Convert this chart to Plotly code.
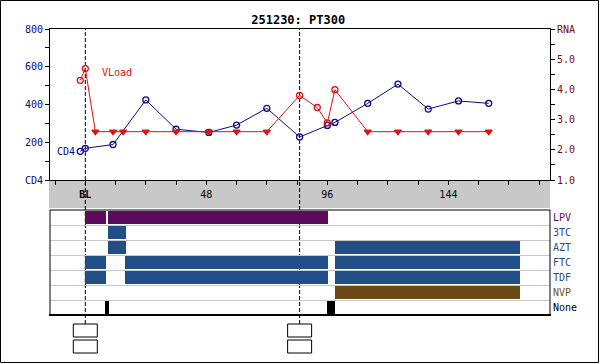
import plotly.graph_objects as go

# ---------------- data ----------------
title_text = "251230: PT300"

cd4_weeks = [-2, 0, 11, 24, 36, 49, 60, 72, 85, 96, 99, 112, 124, 136, 148, 160]
cd4_values = [152, 168, 188, 424, 269, 252, 291, 380, 228, 289, 305, 406, 508, 376, 419, 406]

rna_weeks = [-2, 0, 4, 11, 15, 24, 36, 49, 60, 72, 85, 92, 96, 99, 112, 124, 136, 148, 160]
rna_values = [4.3, 4.69, 2.6, 2.6, 2.6, 2.6, 2.6, 2.6, 2.6, 2.6, 3.8, 3.4, 2.89, 3.99, 2.6, 2.6, 2.6, 2.6, 2.6]
rna_below_limit = [False, False, True, True, True, True, True, True, True, True,
                   False, False, False, False, True, True, True, True, True]

x_tick_weeks = list(range(-12, 181, 12))
x_tick_labels = {0: "<b>BL</b>", 48: "48", 96: "96", 144: "144"}

cd4_ticks = [0, 200, 400, 600, 800]
cd4_tick_labels = ["CD4", "200", "400", "600", "800"]
rna_ticks = [1, 2, 3, 4, 5, 6]
rna_tick_labels = ["1.0", "2.0", "3.0", "4.0", "5.0", "RNA"]

drugs = ["LPV", "3TC", "AZT", "FTC", "TDF", "NVP", "None"]
drug_colors = ["#5c0a5c", "#224e88", "#224e88", "#224e88", "#224e88", "#6b4a16", "#000000"]
label_colors = ["#5c0a5c", "#2a4c8c", "#2a4c8c", "#2a4c8c", "#2a4c8c", "#7a5418", "#000000"]
drug_periods = {
    "LPV": [(0, 8.2), (9.1, 96.2)],
    "3TC": [(9.1, 16)],
    "AZT": [(9.1, 16), (99, 172.4)],
    "FTC": [(0, 8.2), (15.8, 96.2), (99, 172.4)],
    "TDF": [(0, 8.2), (15.8, 96.2), (99, 172.4)],
    "NVP": [(99, 172.4)],
    "None": [(7.9, 9.3), (95.9, 99.2)],
}

genotype_weeks = [0, 85]

# ---------------- layout geometry (pixels of a 600x364 page) ----------------
W, H = 600, 364
def px_x(p): return p / W
def px_y(p): return 1 - p / H

x_dom = [px_x(50), px_x(550)]
top_dom = [px_y(180), px_y(29)]
bot_dom = [px_y(315), px_y(210)]
x_range = [-14, 184.3]

NAVY = "#0a0a8c"
DRED = "#7a0a0a"
RED = "#e01010"
MONO = "DejaVu Sans Mono"

fig = go.Figure()

# CD4
fig.add_trace(go.Scatter(
    x=cd4_weeks, y=cd4_values, mode="lines+markers", xaxis="x", yaxis="y",
    line=dict(color=NAVY, width=1),
    marker=dict(symbol="circle-open", size=6, color=NAVY, line=dict(width=1.3)),
    hoverinfo="x+y", showlegend=False))

# RNA
rna_symbols = ["triangle-down" if b else "circle-open" for b in rna_below_limit]
fig.add_trace(go.Scatter(
    x=rna_weeks, y=rna_values, mode="lines+markers", xaxis="x", yaxis="y2",
    line=dict(color=RED, width=1),
    marker=dict(symbol=rna_symbols, size=6, color=RED, line=dict(width=1.3, color=RED)),
    hoverinfo="x+y", showlegend=False))

# drug bars
for i, d in enumerate(drugs):
    periods = drug_periods[d]
    if not periods:
        continue
    fig.add_trace(go.Bar(
        orientation="h", xaxis="x2", yaxis="y3",
        y=[i + 0.5] * len(periods),
        base=[s for s, e in periods],
        x=[e - s for s, e in periods],
        width=0.92,
        marker=dict(color=drug_colors[i], line=dict(width=0)),
        showlegend=False, name=d))

shapes = []
# gray x-axis band
shapes.append(dict(type="rect", xref="paper", yref="paper",
                   x0=px_x(49), x1=px_x(550), y0=px_y(208), y1=px_y(180),
                   fillcolor="#c8c8c8", line=dict(width=0), layer="below"))
# genotype markers: dashed lines and boxes
for wk in genotype_weeks:
    shapes.append(dict(type="line", xref="x", yref="paper", x0=wk, x1=wk,
                       y0=px_y(324), y1=px_y(29),
                       line=dict(color="black", width=1, dash="4px,2px"), layer="below"))
    for (ya, yb) in [(324, 337), (340, 353)]:
        shapes.append(dict(type="rect", xref="x", yref="paper", xsizemode="pixel",
                           xanchor=wk, x0=-12, x1=12, y0=px_y(yb), y1=px_y(ya),
                           line=dict(color="black", width=1), fillcolor="white"))
# bottom panel frame
shapes.append(dict(type="rect", xref="paper", yref="paper",
                   x0=px_x(50), x1=px_x(550), y0=bot_dom[0], y1=bot_dom[1],
                   line=dict(color="black", width=1), layer="above"))
shapes.append(dict(type="line", xref="paper", yref="paper",
                   x0=px_x(49), x1=px_x(551), y0=px_y(315), y1=px_y(315),
                   line=dict(color="black", width=2), layer="above"))
# outer border
shapes.append(dict(type="rect", xref="paper", yref="paper",
                   x0=px_x(0.5), x1=px_x(598.5), y0=px_y(362.5), y1=px_y(0.5),
                   line=dict(color="black", width=1)))

annotations = [
    dict(text="VLoad", x=6, y=4.55, xref="x", yref="y2", xanchor="left", yanchor="middle",
         showarrow=False, font=dict(family=MONO, size=10, color=RED)),
    dict(text="CD4", x=cd4_weeks[0], y=cd4_values[0], xref="x", yref="y",
         xanchor="right", yanchor="middle", xshift=-3, showarrow=False,
         font=dict(family=MONO, size=10, color=NAVY)),
]

fig.update_layout(
    width=W, height=H, margin=dict(l=0, r=0, t=0, b=0),
    paper_bgcolor="white", plot_bgcolor="white",
    font=dict(family=MONO, size=10, color="black"),
    showlegend=False, barmode="overlay", bargap=0,
    title=dict(text="<b>" + title_text + "</b>", x=0.497, xanchor="center",
               y=px_y(20), yanchor="middle", yref="container",
               font=dict(family=MONO, size=12, color="black")),
    xaxis=dict(domain=x_dom, range=x_range, anchor="y",
               tickmode="array", tickvals=x_tick_weeks,
               ticktext=[x_tick_labels.get(t, "") for t in x_tick_weeks],
               ticks="outside", ticklen=4, tickcolor="black",
               tickfont=dict(family=MONO, size=10, color="black"), ticklabelstandoff=1,
               showline=True, linecolor="black", linewidth=1, mirror=True,
               showgrid=False, zeroline=False, automargin=False),
    yaxis=dict(domain=top_dom, range=[0, 800], anchor="x",
               tickmode="array", tickvals=cd4_ticks, ticktext=cd4_tick_labels,
               ticks="outside", ticklen=4, tickcolor="black",
               minor=dict(dtick=100, ticks="outside", ticklen=4, tickcolor="black", showgrid=False),
               tickfont=dict(family=MONO, size=10, color=NAVY),
               showline=True, linecolor="black", linewidth=1,
               showgrid=False, zeroline=False, automargin=False),
    yaxis2=dict(domain=top_dom, range=[1, 6], overlaying="y", side="right", anchor="x",
                tickmode="array", tickvals=rna_ticks, ticktext=rna_tick_labels,
                ticks="outside", ticklen=4, tickcolor="black",
                minor=dict(dtick=0.5, ticks="outside", ticklen=4, tickcolor="black", showgrid=False),
                tickfont=dict(family=MONO, size=10, color=DRED),
                showline=True, linecolor="black", linewidth=1,
                showgrid=False, zeroline=False, automargin=False),
    xaxis2=dict(domain=x_dom, range=x_range, anchor="y3",
                showticklabels=False, ticks="", showgrid=False, zeroline=False,
                showline=False, automargin=False),
    yaxis3=dict(domain=bot_dom, range=[7, 0], anchor="x2", side="right",
                tickmode="array", tickvals=[i + 0.5 for i in range(len(drugs))],
                ticktext=['<span style="color:%s">%s</span>' % (c, d) for d, c in zip(drugs, label_colors)],
                ticks="", ticklabelstandoff=2,
                tickfont=dict(family=MONO, size=10, color="black"),
                showgrid=False, zeroline=False, showline=False,
                minor=dict(tickmode="array", tickvals=list(range(1, len(drugs))),
                           showgrid=True, gridcolor="#c8c8c8", gridwidth=1, ticks=""),
                automargin=False),
    shapes=shapes, annotations=annotations,
)

fig.write_html("out.html", config={"displayModeBar": False},
               post_script="document.body.style.margin='0';")
